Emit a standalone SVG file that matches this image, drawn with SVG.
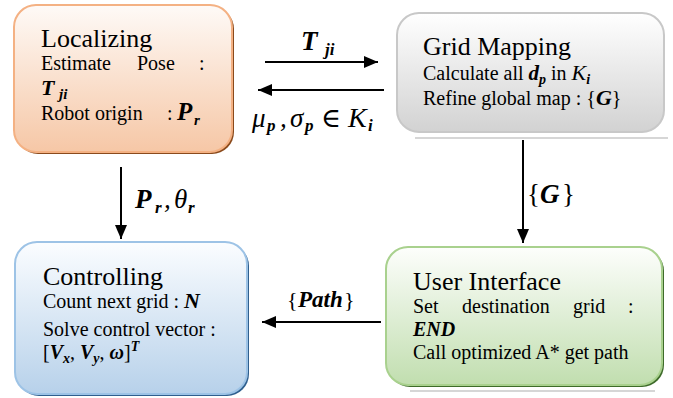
<svg xmlns="http://www.w3.org/2000/svg" width="673" height="398" viewBox="0 0 673 398" font-family="'Liberation Serif', 'DejaVu Serif', serif">
  <defs>
    <linearGradient id="gOrange" x1="0" y1="0" x2="0" y2="1">
      <stop offset="0" stop-color="#fefaf7"/>
      <stop offset="1" stop-color="#f6c7a6"/>
    </linearGradient>
    <linearGradient id="gGray" x1="0" y1="0" x2="0" y2="1">
      <stop offset="0" stop-color="#ffffff"/>
      <stop offset="1" stop-color="#d2d2d2"/>
    </linearGradient>
    <linearGradient id="gBlue" x1="0" y1="0" x2="0" y2="1">
      <stop offset="0" stop-color="#fbfdff"/>
      <stop offset="1" stop-color="#b7d1ea"/>
    </linearGradient>
    <linearGradient id="gGreen" x1="0" y1="0" x2="0" y2="1">
      <stop offset="0" stop-color="#fdfefc"/>
      <stop offset="1" stop-color="#c1deaf"/>
    </linearGradient>
    <marker id="head" viewBox="0 0 14 12" refX="14" refY="6" markerWidth="14" markerHeight="12" markerUnits="userSpaceOnUse" orient="auto">
      <path d="M0,0 L14,6 L0,12 Z" fill="#000"/>
    </marker>
  </defs>
  <style>
    text { font-family: 'Liberation Serif', 'DejaVu Serif', serif; fill: #000; }
    .title { font-size: 26px; }
    .body { font-size: 20px; }
    .m { font-style: italic; }
    .mb { font-style: italic; font-weight: bold; }
    .sub { font-size: 14px; }
    .lbl { font-size: 27px; }
    .lsub { font-size: 17px; }
    .conn { stroke: #000; stroke-width: 2; fill: none; marker-end: url(#head); }
    .rule { stroke: #d6d6d6; stroke-width: 2; }
  </style>

  <rect width="673" height="398" fill="#fff"/>

  <!-- Localizing -->
  <g id="localizing">
    <rect x="16" y="7" width="218" height="147" rx="22" fill="#8a4a1c"/>
    <rect x="14" y="5" width="218" height="147" rx="22" fill="url(#gOrange)" stroke="#f4b183" stroke-width="2"/>
    <text class="title" x="41" y="47">Localizing</text>
    <text class="body" x="41" y="70">Estimate</text>
    <text class="body" x="137" y="70">Pose</text>
    <text class="body" x="199" y="70">:</text>
    <text class="mb" font-size="22" x="41" y="95">T<tspan font-size="15" x="59" dy="4">ji</tspan></text>
    <text class="body" x="41" y="120">Robot origin</text>
    <text class="body" x="167" y="120">:</text>
    <text class="mb" font-size="25" x="177" y="120">P<tspan font-size="15" x="194" dy="5">r</tspan></text>
  </g>

  <!-- Grid Mapping -->
  <g id="grid-mapping">
    <rect x="397" y="13" width="267" height="119" rx="22" fill="url(#gGray)" stroke="#c8c8c8" stroke-width="2"/>
    <line class="rule" x1="415" y1="138" x2="668" y2="138"/>
    <text class="title" x="423" y="55">Grid Mapping</text>
    <text class="body" x="423" y="80">Calculate all <tspan class="mb" font-size="21">d</tspan><tspan class="sub mb" dy="4">p</tspan><tspan dy="-4"> in </tspan><tspan class="m" font-size="22">K</tspan><tspan class="sub mb" dy="4">i</tspan></text>
    <text class="body" x="423" y="105">Refine global map : {<tspan class="mb" font-size="22">G</tspan>}</text>
  </g>

  <!-- Controlling -->
  <g id="controlling">
    <rect x="17" y="244" width="232" height="152" rx="22" fill="#2f5f8e"/>
    <rect x="15" y="242" width="232" height="152" rx="22" fill="url(#gBlue)" stroke="#9dc3e6" stroke-width="2"/>
    <text class="title" x="43" y="285">Controlling</text>
    <text class="body" x="43" y="308">Count next grid : <tspan class="mb" font-size="22">N</tspan></text>
    <text class="body" x="43" y="336">Solve control vector :</text>
    <text class="body" x="43" y="359">[<tspan class="mb">V</tspan><tspan class="sub mb" dy="4">x</tspan><tspan dy="-4">, </tspan><tspan class="mb">V</tspan><tspan class="sub mb" dy="4">y</tspan><tspan dy="-4">, </tspan><tspan class="mb">ω</tspan>]<tspan class="sub mb" dy="-8">T</tspan></text>
  </g>

  <!-- User Interface -->
  <g id="user-interface">
    <rect x="388" y="249" width="276" height="138" rx="22" fill="#3e6b2a"/>
    <rect x="386" y="247" width="276" height="138" rx="22" fill="url(#gGreen)" stroke="#a9d18e" stroke-width="2"/>
    <line class="rule" x1="410" y1="391" x2="655" y2="391"/>
    <text class="title" x="413" y="290">User Interface</text>
    <text class="body" x="413" y="313">Set</text>
    <text class="body" x="462" y="313">destination</text>
    <text class="body" x="573" y="313">grid</text>
    <text class="body" x="628" y="313">:</text>
    <text class="body mb" x="413" y="336">END</text>
    <text class="body" x="413" y="359">Call optimized A* get path</text>
  </g>

  <!-- Connectors -->
  <g id="connectors">
    <line class="conn" x1="265" y1="62" x2="378" y2="62"/>
    <line class="conn" x1="384" y1="90" x2="258" y2="90"/>
    <line class="conn" x1="121" y1="167" x2="121" y2="239"/>
    <line class="conn" x1="523" y1="140" x2="523" y2="243"/>
    <line class="conn" x1="381" y1="322" x2="262" y2="322"/>
    <text class="lbl mb" x="301" y="50">T<tspan class="lsub" x="325" dy="5">ji</tspan></text>
    <text class="lbl m" x="252" y="127">μ<tspan class="lsub mb" x="267" dy="4">p</tspan><tspan x="280" dy="-4">,</tspan><tspan x="290">σ</tspan><tspan class="lsub mb" x="305" dy="4">p</tspan><tspan x="321" dy="-4" font-style="normal">∈</tspan><tspan x="348" font-size="28">K</tspan><tspan class="lsub mb" x="368" dy="4">i</tspan></text>
    <text class="lbl mb" x="135" y="208">P<tspan class="lsub" x="155" dy="5">r</tspan><tspan x="164" dy="-5" font-weight="normal">,</tspan><tspan x="174" font-weight="normal">θ</tspan><tspan class="lsub" x="188" dy="5">r</tspan></text>
    <text class="lbl" x="527" y="203">{<tspan class="mb" x="540">G</tspan><tspan x="562">}</tspan></text>
    <text font-size="22" x="287" y="307">{<tspan class="mb" x="298" font-size="23">Path</tspan><tspan x="344">}</tspan></text>
  </g>
</svg>
